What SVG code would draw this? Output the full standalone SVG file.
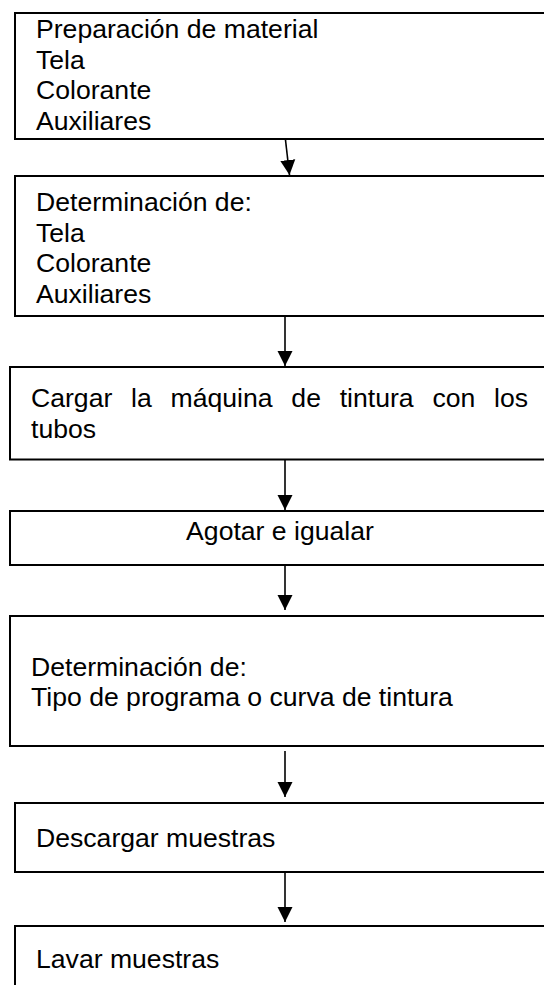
<svg xmlns="http://www.w3.org/2000/svg" width="544" height="985" viewBox="0 0 544 985">
<style>
  .box { fill: #ffffff; stroke: #000000; stroke-width: 2; }
  .t { font-family: Arial, "Liberation Sans", sans-serif; font-size: 26.6px; fill: #000000; }
  .c { stroke: #000000; stroke-width: 1.6; fill: none; marker-end: url(#ah); }
</style>
<defs>
  <marker id="ah" markerUnits="userSpaceOnUse" markerWidth="16" markerHeight="16" viewBox="0 0 16 16" refX="15" refY="8" orient="auto">
    <path d="M0,0.5 L15,8 L0,15.5 Z" fill="#000000"/>
  </marker>
</defs>
<rect width="544" height="985" fill="#ffffff"/>
<g id="n1">
  <rect class="box" x="15" y="13" width="560" height="126"/>
  <text class="t" x="36" y="38">Preparación de material</text>
  <text class="t" x="36" y="69">Tela</text>
  <text class="t" x="36" y="99">Colorante</text>
  <text class="t" x="36" y="130">Auxiliares</text>
</g>
<g id="n2">
  <rect class="box" x="15" y="176" width="560" height="140"/>
  <text class="t" x="36" y="211">Determinación de:</text>
  <text class="t" x="36" y="241.5">Tela</text>
  <text class="t" x="36" y="272">Colorante</text>
  <text class="t" x="36" y="302.5">Auxiliares</text>
</g>
<g id="n3">
  <rect class="box" x="10" y="367" width="560" height="92.5"/>
  <text class="t" x="31" y="407" word-spacing="11.4">Cargar la máquina de tintura con los</text>
  <text class="t" x="31" y="438">tubos</text>
</g>
<g id="n4">
  <rect class="box" x="10" y="511" width="560" height="54"/>
  <text class="t" x="280" y="540" text-anchor="middle">Agotar e igualar</text>
</g>
<g id="n5">
  <rect class="box" x="10" y="616" width="560" height="130"/>
  <text class="t" x="31" y="676">Determinación de:</text>
  <text class="t" x="31" y="706">Tipo de programa o curva de tintura</text>
</g>
<g id="n6">
  <rect class="box" x="15" y="803" width="560" height="69"/>
  <text class="t" x="36" y="847">Descargar muestras</text>
</g>
<g id="n7">
  <rect class="box" x="15" y="926" width="560" height="80"/>
  <text class="t" x="36" y="968">Lavar muestras</text>
</g>
<g id="connectors">
  <line class="c" x1="285.5" y1="140" x2="289.5" y2="175"/>
  <line class="c" x1="285" y1="317" x2="285" y2="366"/>
  <line class="c" x1="285" y1="460" x2="285" y2="510"/>
  <line class="c" x1="285" y1="565" x2="285" y2="610"/>
  <line class="c" x1="285" y1="751" x2="285" y2="797"/>
  <line class="c" x1="285" y1="873" x2="285" y2="922"/>
</g>
</svg>
